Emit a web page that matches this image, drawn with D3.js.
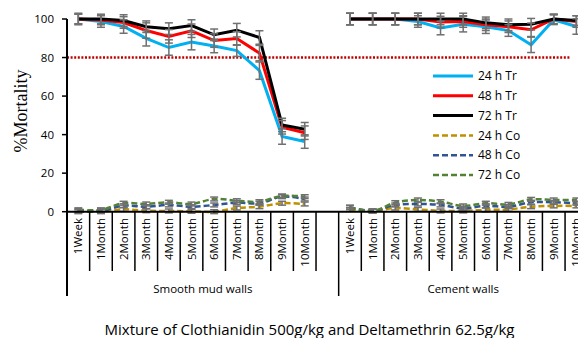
<!DOCTYPE html>
<html>
<head>
<meta charset="utf-8">
<script src="https://cdn.jsdelivr.net/npm/d3@7"></script>
<style>
  body { margin: 0; background: #fff; }
  text { font-family: "Open Sans", "Noto Sans", sans-serif; fill: #000; }
</style>
</head>
<body>
<div id="chart"></div>
<script>
// Categories and groups
var categories = ["1Week", "1Month", "2Month", "3Month", "4Month", "5Month",
                  "6Month", "7Month", "8Month", "9Month", "10Month"];
var groups = ["Smooth mud walls", "Cement walls"];
var yTicks = [0, 20, 40, 60, 80, 100];
var cutoff = 80;

// Treatment series (% mortality), smooth mud walls then cement walls
var smooth24Tr = [100, 98.7, 96.1, 90, 85.2, 88, 86, 83.6, 73.2, 39, 36.4];
var smooth48Tr = [100, 99.5, 98.2, 94, 91, 93.9, 88.8, 89.9, 82.3, 43.8, 41];
var smooth72Tr = [100, 100, 99.2, 96, 95, 96.6, 91.8, 94.2, 90.4, 45, 42.8];
var cement24Tr = [100, 100, 100, 98.7, 95.3, 97.3, 96, 94, 86.6, 99.6, 96.1];
var cement48Tr = [100, 100, 100, 100, 98.4, 98.7, 97, 96, 94.4, 100, 98.7];
var cement72Tr = [100, 100, 100, 100, 100, 100, 98, 97, 97.3, 100, 99.2];

// Control series
var smooth24Co = [0, 0, 1.2, 0.5, 0.4, 0.2, 0, 1.9, 2.6, 4.4, 4];
var smooth48Co = [0.5, 0.5, 3.1, 2.6, 3.5, 2.6, 3.5, 4.7, 4.4, 7.8, 6.6];
var smooth72Co = [1, 1, 4.4, 4, 4.9, 4, 6.6, 5.7, 5.2, 8.2, 7.8];
var cement24Co = [1.2, 0.4, 1.9, 1.2, 0.4, 0.4, 0.9, 1.2, 2.6, 3, 3];
var cement48Co = [2.3, 0.4, 3.5, 4, 3.5, 1.7, 3.1, 2.6, 4.9, 4.9, 4.4];
var cement72Co = [2.3, 0.4, 4.7, 6.1, 5.2, 3, 4.4, 3.8, 6.4, 6.1, 6.1];

// Error bar half-lengths
var smooth24TrErr = [3, 3, 3.5, 4, 4, 4, 3.5, 3, 4.5, 4, 3.5];
var smooth48TrErr = [2.5, 2.5, 3, 4, 3.5, 3.5, 3.5, 3.5, 4, 3.5, 3.5];
var smooth72TrErr = [2.5, 2.5, 3, 3, 3, 3, 3, 3.5, 3.5, 3.5, 3.5];
var cement24TrErr = [3, 3, 3, 3, 3.5, 4, 3.5, 3, 4, 2.5, 4];
var cement48TrErr = [3, 3, 3, 3, 3, 3, 3, 3, 3.5, 2.5, 3];
var cement72TrErr = [3, 3, 3, 3, 3, 3, 3, 3, 3, 2.5, 2.5];
var coErr = [1, 1, 1, 1, 1, 1, 1, 1, 1, 1, 1];

var legendLabels = ["24 h Tr", "48 h Tr", "72 h Tr", "24 h Co", "48 h Co", "72 h Co"];
var colors = ["#00b0f0", "#ff0000", "#000000", "#bf9000", "#2f5597", "#548235"];

var series = [
    {smooth: smooth24Tr, cement: cement24Tr, errS: smooth24TrErr, errC: cement24TrErr, dashed: false},
    {smooth: smooth48Tr, cement: cement48Tr, errS: smooth48TrErr, errC: cement48TrErr, dashed: false},
    {smooth: smooth72Tr, cement: cement72Tr, errS: smooth72TrErr, errC: cement72TrErr, dashed: false},
    {smooth: smooth24Co, cement: cement24Co, errS: coErr, errC: coErr, dashed: true},
    {smooth: smooth48Co, cement: cement48Co, errS: coErr, errC: coErr, dashed: true},
    {smooth: smooth72Co, cement: cement72Co, errS: coErr, errC: coErr, dashed: true}
];

var width = 578, height = 338;
var svg = d3.select("#chart").append("svg")
            .attr("width", width)
            .attr("height", height);

// one slot per category, an empty slot after the smooth walls group
var slots = [];
categories.forEach(function(c) { slots.push("S|" + c); });
slots.push("S|");
categories.forEach(function(c) { slots.push("C|" + c); });

var x = d3.scaleBand().domain(slots).range([67, 587.7]).paddingInner(0).paddingOuter(0);
var y = d3.scaleLinear().domain([0, 100]).range([211.7, 19]);
var bw = x.bandwidth();
var axisBottom = 271, groupBottom = 296;

function cx(key) { return x(key) + bw / 2; }

// cutoff line at 80%
svg.append("line")
    .attr("x1", 67)
    .attr("x2", 571)
    .attr("y1", y(cutoff))
    .attr("y2", y(cutoff))
    .attr("stroke", "#c00000")
    .attr("stroke-width", 2.5)
    .attr("stroke-dasharray", "2,1.6");

// lines
var lineTr = d3.line().x(function(d) { return cx(d.k); }).y(function(d) { return y(d.v); });
var lineCo = d3.line().x(function(d) { return cx(d.k); }).y(function(d) { return y(d.v); })
               .curve(d3.curveCatmullRom);

function points(vals, prefix, errs) {
    return vals.map(function(v, i) { return {k: prefix + categories[i], v: v, e: errs[i]}; });
}

// controls first, then treatments so the Tr lines sit on top
var drawOrder = [3, 4, 5, 0, 1, 2];
drawOrder.forEach(function(si) {
    var s = series[si];
    [points(s.smooth, "S|", s.errS), points(s.cement, "C|", s.errC)].forEach(function(pts) {
        svg.append("path")
            .datum(pts)
            .attr("d", s.dashed ? lineCo : lineTr)
            .attr("fill", "none")
            .attr("stroke", colors[si])
            .attr("stroke-width", s.dashed ? 2.5 : 3)
            .attr("stroke-dasharray", s.dashed ? "6,3" : null);
    });
});

// error bars on top
series.forEach(function(s) {
    var pts = points(s.smooth, "S|", s.errS).concat(points(s.cement, "C|", s.errC));
    var g = svg.append("g")
               .attr("stroke", "#707070")
               .attr("stroke-width", 1.5);
    pts.forEach(function(p) {
        var px = cx(p.k);
        g.append("line").attr("x1", px).attr("x2", px)
            .attr("y1", y(p.v - p.e)).attr("y2", y(p.v + p.e));
        g.append("line").attr("x1", px - 4).attr("x2", px + 4)
            .attr("y1", y(p.v - p.e)).attr("y2", y(p.v - p.e));
        g.append("line").attr("x1", px - 4).attr("x2", px + 4)
            .attr("y1", y(p.v + p.e)).attr("y2", y(p.v + p.e));
    });
});

// y axis
svg.append("line")
    .attr("x1", 67).attr("x2", 67)
    .attr("y1", y(100)).attr("y2", groupBottom)
    .attr("stroke", "#000").attr("stroke-width", 2);

yTicks.forEach(function(t) {
    svg.append("line")
        .attr("x1", 62).attr("x2", 67)
        .attr("y1", y(t)).attr("y2", y(t))
        .attr("stroke", "#000").attr("stroke-width", 1.5);
    svg.append("text")
        .attr("x", 54)
        .attr("y", y(t))
        .attr("dy", "0.35em")
        .attr("text-anchor", "end")
        .style("font-size", "11.5px")
        .text(t);
});

// y axis title
svg.append("text")
    .attr("transform", "translate(27," + 111 + ") rotate(-90)")
    .attr("text-anchor", "middle")
    .style("font-family", "'Liberation Serif', 'DejaVu Serif', serif")
    .style("font-size", "18px")
    .text("%Mortality");

// x axis line
svg.append("line")
    .attr("x1", 67).attr("x2", width)
    .attr("y1", y(0)).attr("y2", y(0))
    .attr("stroke", "#000").attr("stroke-width", 2);

// category separators
slots.forEach(function(k, i) {
    if (i === 0) return;
    var sx = x(k);
    svg.append("line")
        .attr("x1", sx).attr("x2", sx)
        .attr("y1", y(0)).attr("y2", (k === "C|1Week") ? groupBottom : axisBottom)
        .attr("stroke", "#000").attr("stroke-width", 1.5);
});

// category labels
slots.forEach(function(k) {
    var lab = k.split("|")[1];
    if (!lab) return;
    svg.append("text")
        .attr("transform", "translate(" + cx(k) + ",218) rotate(-90)")
        .attr("dy", "0.35em")
        .attr("text-anchor", "end")
        .style("font-size", "11.5px")
        .text(lab);
});

// group labels
var groupCenters = [(67 + x("C|1Week")) / 2, (x("C|1Week") + 587.7) / 2];
groups.forEach(function(gname, i) {
    svg.append("text")
        .attr("x", groupCenters[i])
        .attr("y", 292.5)
        .attr("text-anchor", "middle")
        .style("font-size", "11.5px")
        .text(gname);
});

// legend
legendLabels.forEach(function(lab, i) {
    var ly = 76 + i * 19.8;
    svg.append("line")
        .attr("x1", 433).attr("x2", 473)
        .attr("y1", ly).attr("y2", ly)
        .attr("stroke", colors[i])
        .attr("stroke-width", i < 3 ? 3 : 2.5)
        .attr("stroke-dasharray", i < 3 ? null : "6,3");
    svg.append("text")
        .attr("x", 478)
        .attr("y", ly)
        .attr("dy", "0.35em")
        .style("font-size", "12px")
        .text(lab);
});

// chart title
svg.append("text")
    .attr("x", 309.5)
    .attr("y", 335)
    .attr("text-anchor", "middle")
    .style("font-size", "15px")
    .text("Mixture of Clothianidin 500g/kg and Deltamethrin 62.5g/kg");
</script>
</body>
</html>
